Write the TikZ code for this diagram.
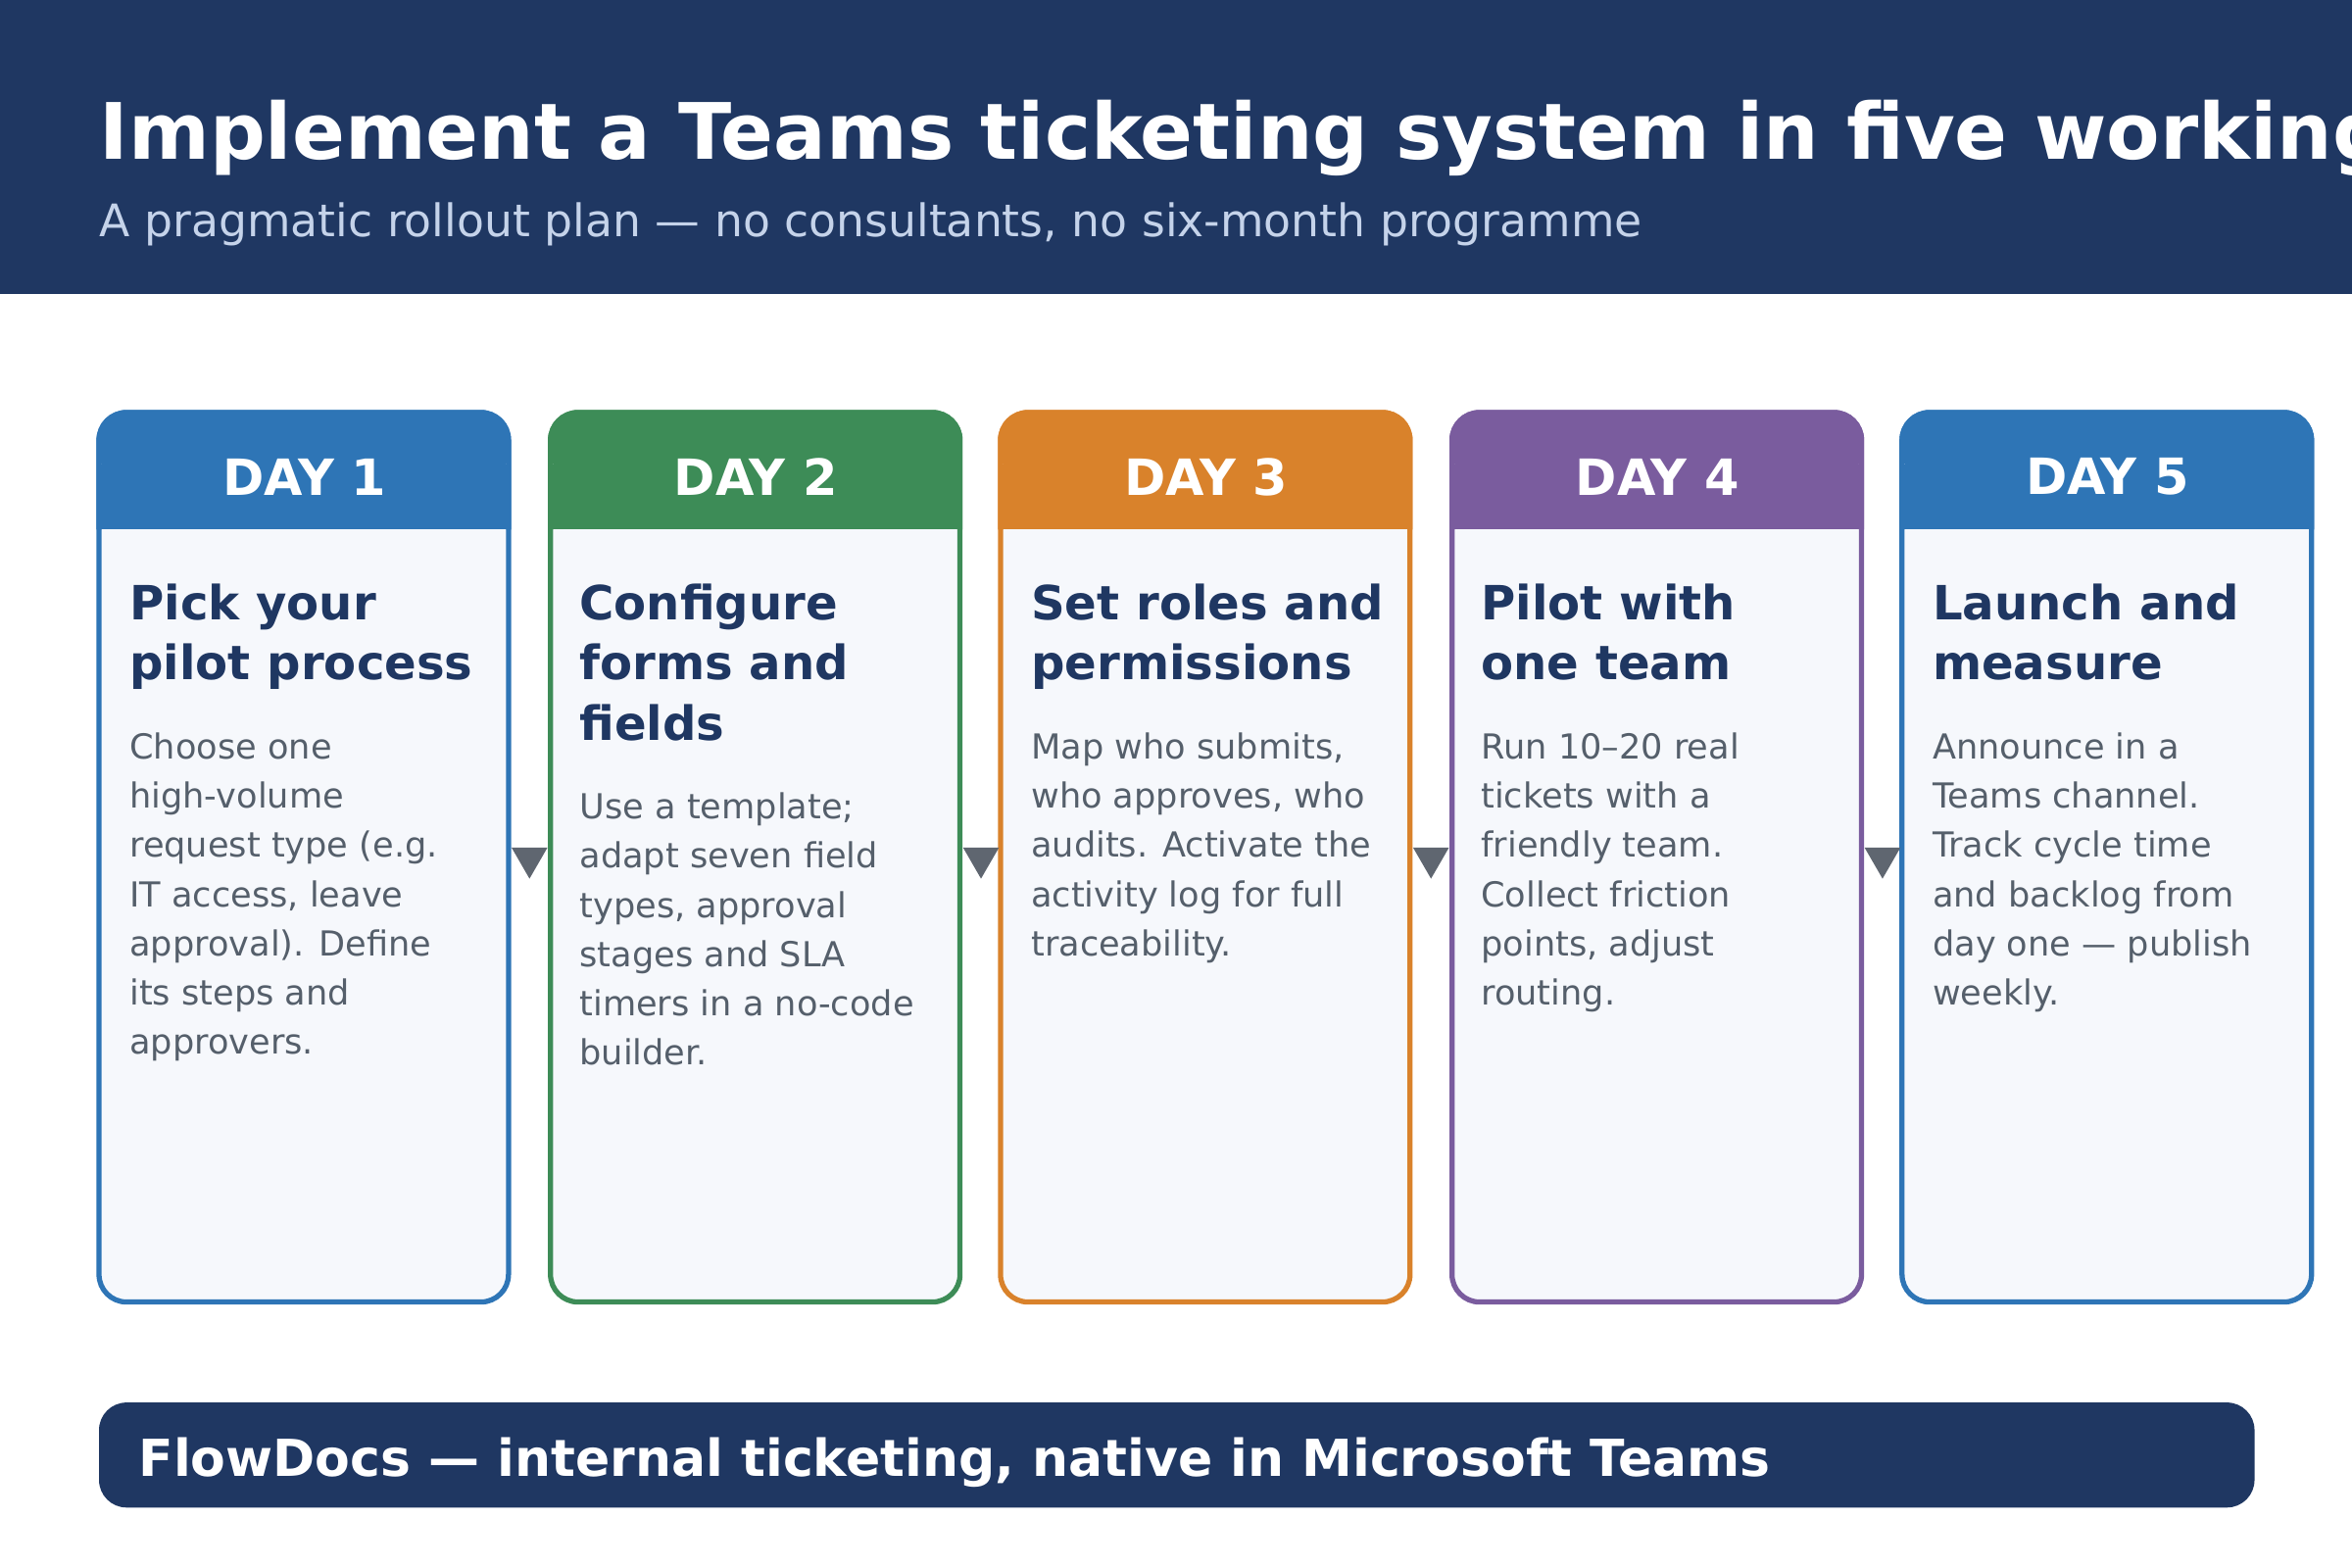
\documentclass[tikz,border=0pt]{standalone}
\usepackage{fontspec}
\setmainfont{DejaVu Sans}
\usetikzlibrary{shapes.geometric}
\definecolor{navy}{HTML}{1F3762}
\definecolor{cblue}{HTML}{2E75B6}
\definecolor{cgreen}{HTML}{3D8C57}
\definecolor{corange}{HTML}{D9822B}
\definecolor{cpurple}{HTML}{7A5C9E}
\definecolor{cardbg}{HTML}{F6F8FC}
\definecolor{bodygray}{HTML}{555F6B}
\definecolor{subblue}{HTML}{C5D3EA}
\definecolor{arrowgray}{HTML}{5F6670}
\begin{document}
\begin{tikzpicture}[x=0.01531cm,y=-0.01531cm,
  card/.style={draw=#1,line width=1.5pt,fill=cardbg,rounded corners=8pt},
  day label/.style={text=white,font=\bfseries\fontsize{14.5}{17}\selectfont},
  card title/.style={anchor=north west,align=left,inner sep=0pt,text=navy,
    font=\bfseries\fontsize{13.7}{17.4}\selectfont},
  card body/.style={anchor=north west,align=left,inner sep=0pt,text=bodygray,
    font=\fontsize{10}{14.3}\selectfont},
  step arrow/.style={regular polygon,regular polygon sides=3,shape border rotate=180,
    fill=arrowgray,inner sep=0pt,minimum size=12pt}]
  \useasboundingbox (0,0) rectangle (1568,1045);
  % header band
  \fill[navy] (0,0) rectangle (1568,196);
  \node[anchor=base west,inner sep=0pt,text=white,font=\bfseries\fontsize{22.6}{27}\selectfont]
    (title) at (66,106) {Implement a Teams ticketing system in five working days};
  \node[anchor=base west,inner sep=0pt,text=subblue,font=\fontsize{13}{16}\selectfont]
    (subtitle) at (66,158) {A pragmatic rollout plan — no consultants, no six-month programme};
  % cards
  \foreach \x/\c/\n in {66/cblue/1,367/cgreen/2,667/corange/3,968/cpurple/4,1268/cblue/5}{
    \draw[card=\c] (\x,275) rectangle ++(273,593);
    \fill[\c,rounded corners=8pt] (\x,320) -- (\x,275) -- ++(273,0) -- ++(0,45) -- cycle;
    \fill[\c] (\x,310) rectangle ++(273,43);
    \draw[\c,line width=1.5pt,rounded corners=8pt] (\x,353) -- (\x,275) -- ++(273,0) -- ++(0,78);
    \node[day label] (day\n) at (\x+137,318) {DAY \n};
  }
  \node[card title] (t1) at (86,389) {Pick your\\pilot process};
  \node[card body] (b1) at (86,488) {Choose one\\high-volume\\request type (e.g.\\IT access, leave\\approval). Define\\its steps and\\approvers.};
  \node[card title] (t2) at (386,389) {Configure\\forms and\\fields};
  \node[card body] (b2) at (386,528) {Use a template;\\adapt seven field\\types, approval\\stages and SLA\\timers in a no-code\\builder.};
  \node[card title] (t3) at (687,389) {Set roles and\\permissions};
  \node[card body] (b3) at (687,488) {Map who submits,\\who approves, who\\audits. Activate the\\activity log for full\\traceability.};
  \node[card title] (t4) at (987,389) {Pilot with\\one team};
  \node[card body] (b4) at (987,488) {Run 10–20 real\\tickets with a\\friendly team.\\Collect friction\\points, adjust\\routing.};
  \node[card title] (t5) at (1288,389) {Launch and\\measure};
  \node[card body] (b5) at (1288,488) {Announce in a\\Teams channel.\\Track cycle time\\and backlog from\\day one — publish\\weekly.};
  % arrows between cards
  \foreach \x/\i in {353/1,654/2,954/3,1255/4}{
    \node[step arrow] (a\i) at (\x,572) {};
  }
  % footer
  \fill[navy,rounded corners=8pt] (66,935) rectangle (1503,1005);
  \node[anchor=base west,inner sep=0pt,text=white,font=\bfseries\fontsize{14.8}{18}\selectfont]
    (footer) at (92,984) {FlowDocs — internal ticketing, native in Microsoft Teams};
\end{tikzpicture}
\end{document}
